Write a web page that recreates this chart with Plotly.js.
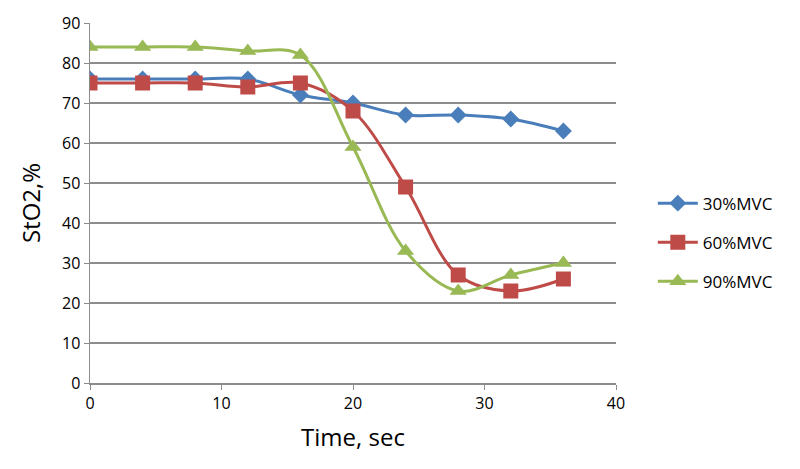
<!DOCTYPE html>
<html><head><meta charset="utf-8">
<script src="https://cdn.plot.ly/plotly-3.0.1.min.js"></script>
<style>html,body{margin:0;padding:0;background:#fff;}#chart{width:800px;height:469px;}</style>
</head><body><div id="chart"></div>
<script>
const time = [0, 4, 8, 12, 16, 20, 24, 28, 32, 36];
const mvc30 = [76, 76, 76, 76, 72, 70, 67, 67, 66, 63];
const mvc60 = [75, 75, 75, 74, 75, 68, 49, 27, 23, 26];
const mvc90 = [84, 84, 84, 83, 82, 59, 33, 23, 27, 30];
const seriesNames = ['30%MVC', '60%MVC', '90%MVC'];
const colors = ['#4a7ebb', '#be4b48', '#98b954'];
const symbols = ['diamond', 'square', 'triangle-up'];
const vals = [mvc30, mvc60, mvc90];
const traces = vals.map((v, i) => ({
  x: time, y: v, name: seriesNames[i], type: 'scatter', mode: 'lines+markers',
  legendgroup: 'g' + i,
  line: {color: colors[i], width: 3, shape: 'spline', smoothing: 1},
  marker: {color: colors[i], symbol: symbols[i], size: i === 0 ? 13 : 15}
}));
const font = "'Open Sans', 'DejaVu Sans', sans-serif";
const layout = {
  width: 800, height: 469,
  margin: {l: 90, r: 184, t: 23, b: 86},
  paper_bgcolor: '#fff', plot_bgcolor: '#fff',
  font: {family: font, color: '#000', size: 16},
  showlegend: true,
  legend: {x: 1.07, y: 0.39, yanchor: 'middle', xanchor: 'left', font: {size: 17}, tracegroupgap: 14, itemwidth: 40},
  xaxis: {
    range: [0, 40], dtick: 10, tick0: 0, showgrid: false, zeroline: false,
    showline: true, linecolor: '#8c8c8c', linewidth: 1.5,
    ticks: 'outside', ticklen: 5, tickcolor: '#8c8c8c', tickfont: {size: 16},
    title: {text: 'Time, sec', font: {size: 24}, standoff: 16}
  },
  yaxis: {
    range: [0, 90], dtick: 10, tick0: 0, showgrid: true, gridcolor: '#8c8c8c', gridwidth: 1.5, zeroline: false,
    showline: true, linecolor: '#8c8c8c', linewidth: 1.5,
    ticks: 'outside', ticklen: 5, tickcolor: '#8c8c8c', tickfont: {size: 16},
    title: {text: 'StO2,%', font: {size: 24}, standoff: 14}
  }
};
Plotly.newPlot('chart', traces, layout, {displayModeBar: false, staticPlot: true});
</script></body></html>
